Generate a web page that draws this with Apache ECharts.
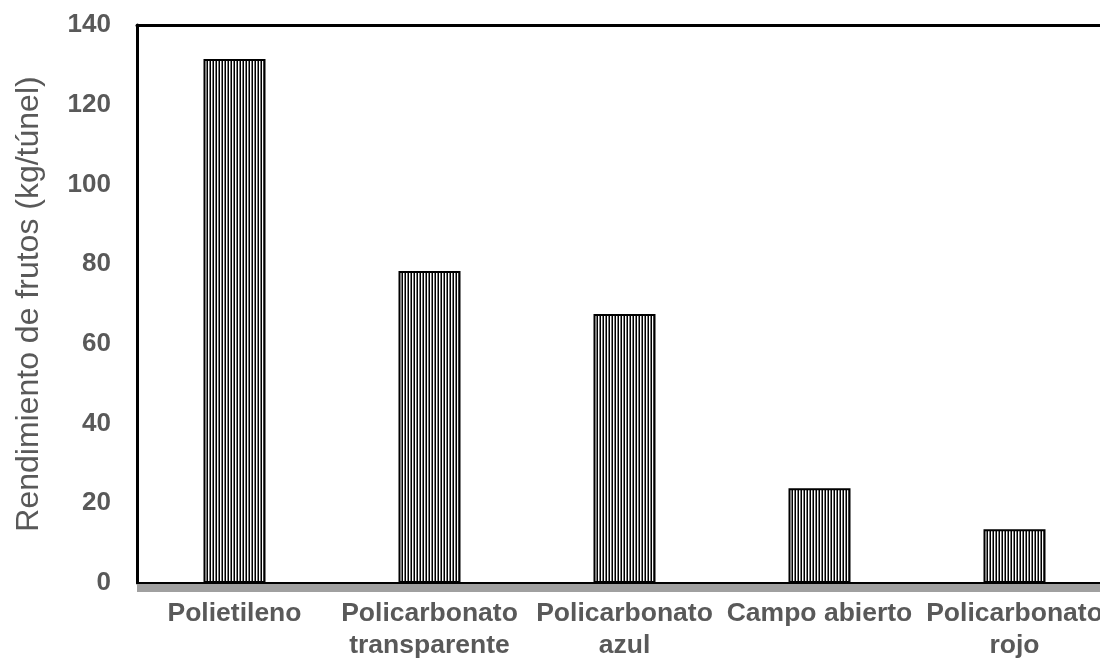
<!DOCTYPE html>
<html>
<head>
<meta charset="utf-8">
<script src="https://cdn.jsdelivr.net/npm/echarts@6/dist/echarts.min.js"></script>
<style>html,body{margin:0;padding:0;background:#fff}#c{width:1100px;height:662px}</style>
</head>
<body>
<div id="c"></div>
<script>
var categories = ['Polietileno', 'Policarbonato\ntransparente', 'Policarbonato\nazul', 'Campo abierto', 'Policarbonato\nrojo'];
var values = [131.5, 78.3, 67.5, 23.8, 13.5];
var yTicks = [0, 20, 40, 60, 80, 100, 120, 140];
var yName = 'Rendimiento de frutos (kg/túnel)';

var pat = document.createElement('canvas');
pat.width = 3; pat.height = 4;
var pc = pat.getContext('2d');
pc.fillStyle = '#ffffff'; pc.fillRect(0, 0, 3, 4);
pc.fillStyle = '#000000'; pc.fillRect(0, 0, 1, 4);
pc.fillStyle = '#7a7a7a'; pc.fillRect(2, 0, 1, 4);

var font = 'Liberation Sans, Arial, sans-serif';
var chart = echarts.init(document.getElementById('c'));
chart.setOption({
  animation: false,
  backgroundColor: '#ffffff',
  grid: { left: 137, width: 975, top: 25, bottom: 79, outerBoundsMode: 'none', containLabel: false },
  xAxis: [
    {
      type: 'category', data: categories, position: 'bottom', z: 5,
      axisLine: { lineStyle: { color: '#000', width: 2 } },
      axisTick: { show: false },
      axisLabel: { interval: 0, margin: 15, color: '#595959', fontFamily: font, fontWeight: 'bold', fontSize: 26.5, lineHeight: 32 }
    },
    {
      type: 'category', data: categories, position: 'bottom', offset: 5, z: 1,
      axisLine: { lineStyle: { color: '#a0a0a0', width: 8, cap: 'butt' } },
      axisTick: { show: false }, axisLabel: { show: false }
    },
    {
      type: 'category', data: categories, position: 'top',
      axisLine: { lineStyle: { color: '#000', width: 3 } },
      axisTick: { show: false }, axisLabel: { show: false }
    }
  ],
  yAxis: {
    type: 'value', min: yTicks[0], max: yTicks[yTicks.length - 1], interval: 20,
    name: yName, nameLocation: 'middle', nameGap: 92, nameRotate: 90,
    nameTextStyle: { color: '#595959', fontFamily: font, fontSize: 32 },
    axisLine: { show: true, lineStyle: { color: '#000', width: 3 } },
    axisTick: { show: false },
    splitLine: { show: false },
    axisLabel: { margin: 26, color: '#595959', fontFamily: font, fontWeight: 'bold', fontSize: 26 }
  },
  series: [{
    type: 'bar', data: values, barWidth: 62, xAxisIndex: 0, z: 3,
    itemStyle: { color: { image: pat, repeat: 'repeat' }, borderColor: '#000', borderWidth: 2 }
  }]
});
</script>
</body>
</html>
